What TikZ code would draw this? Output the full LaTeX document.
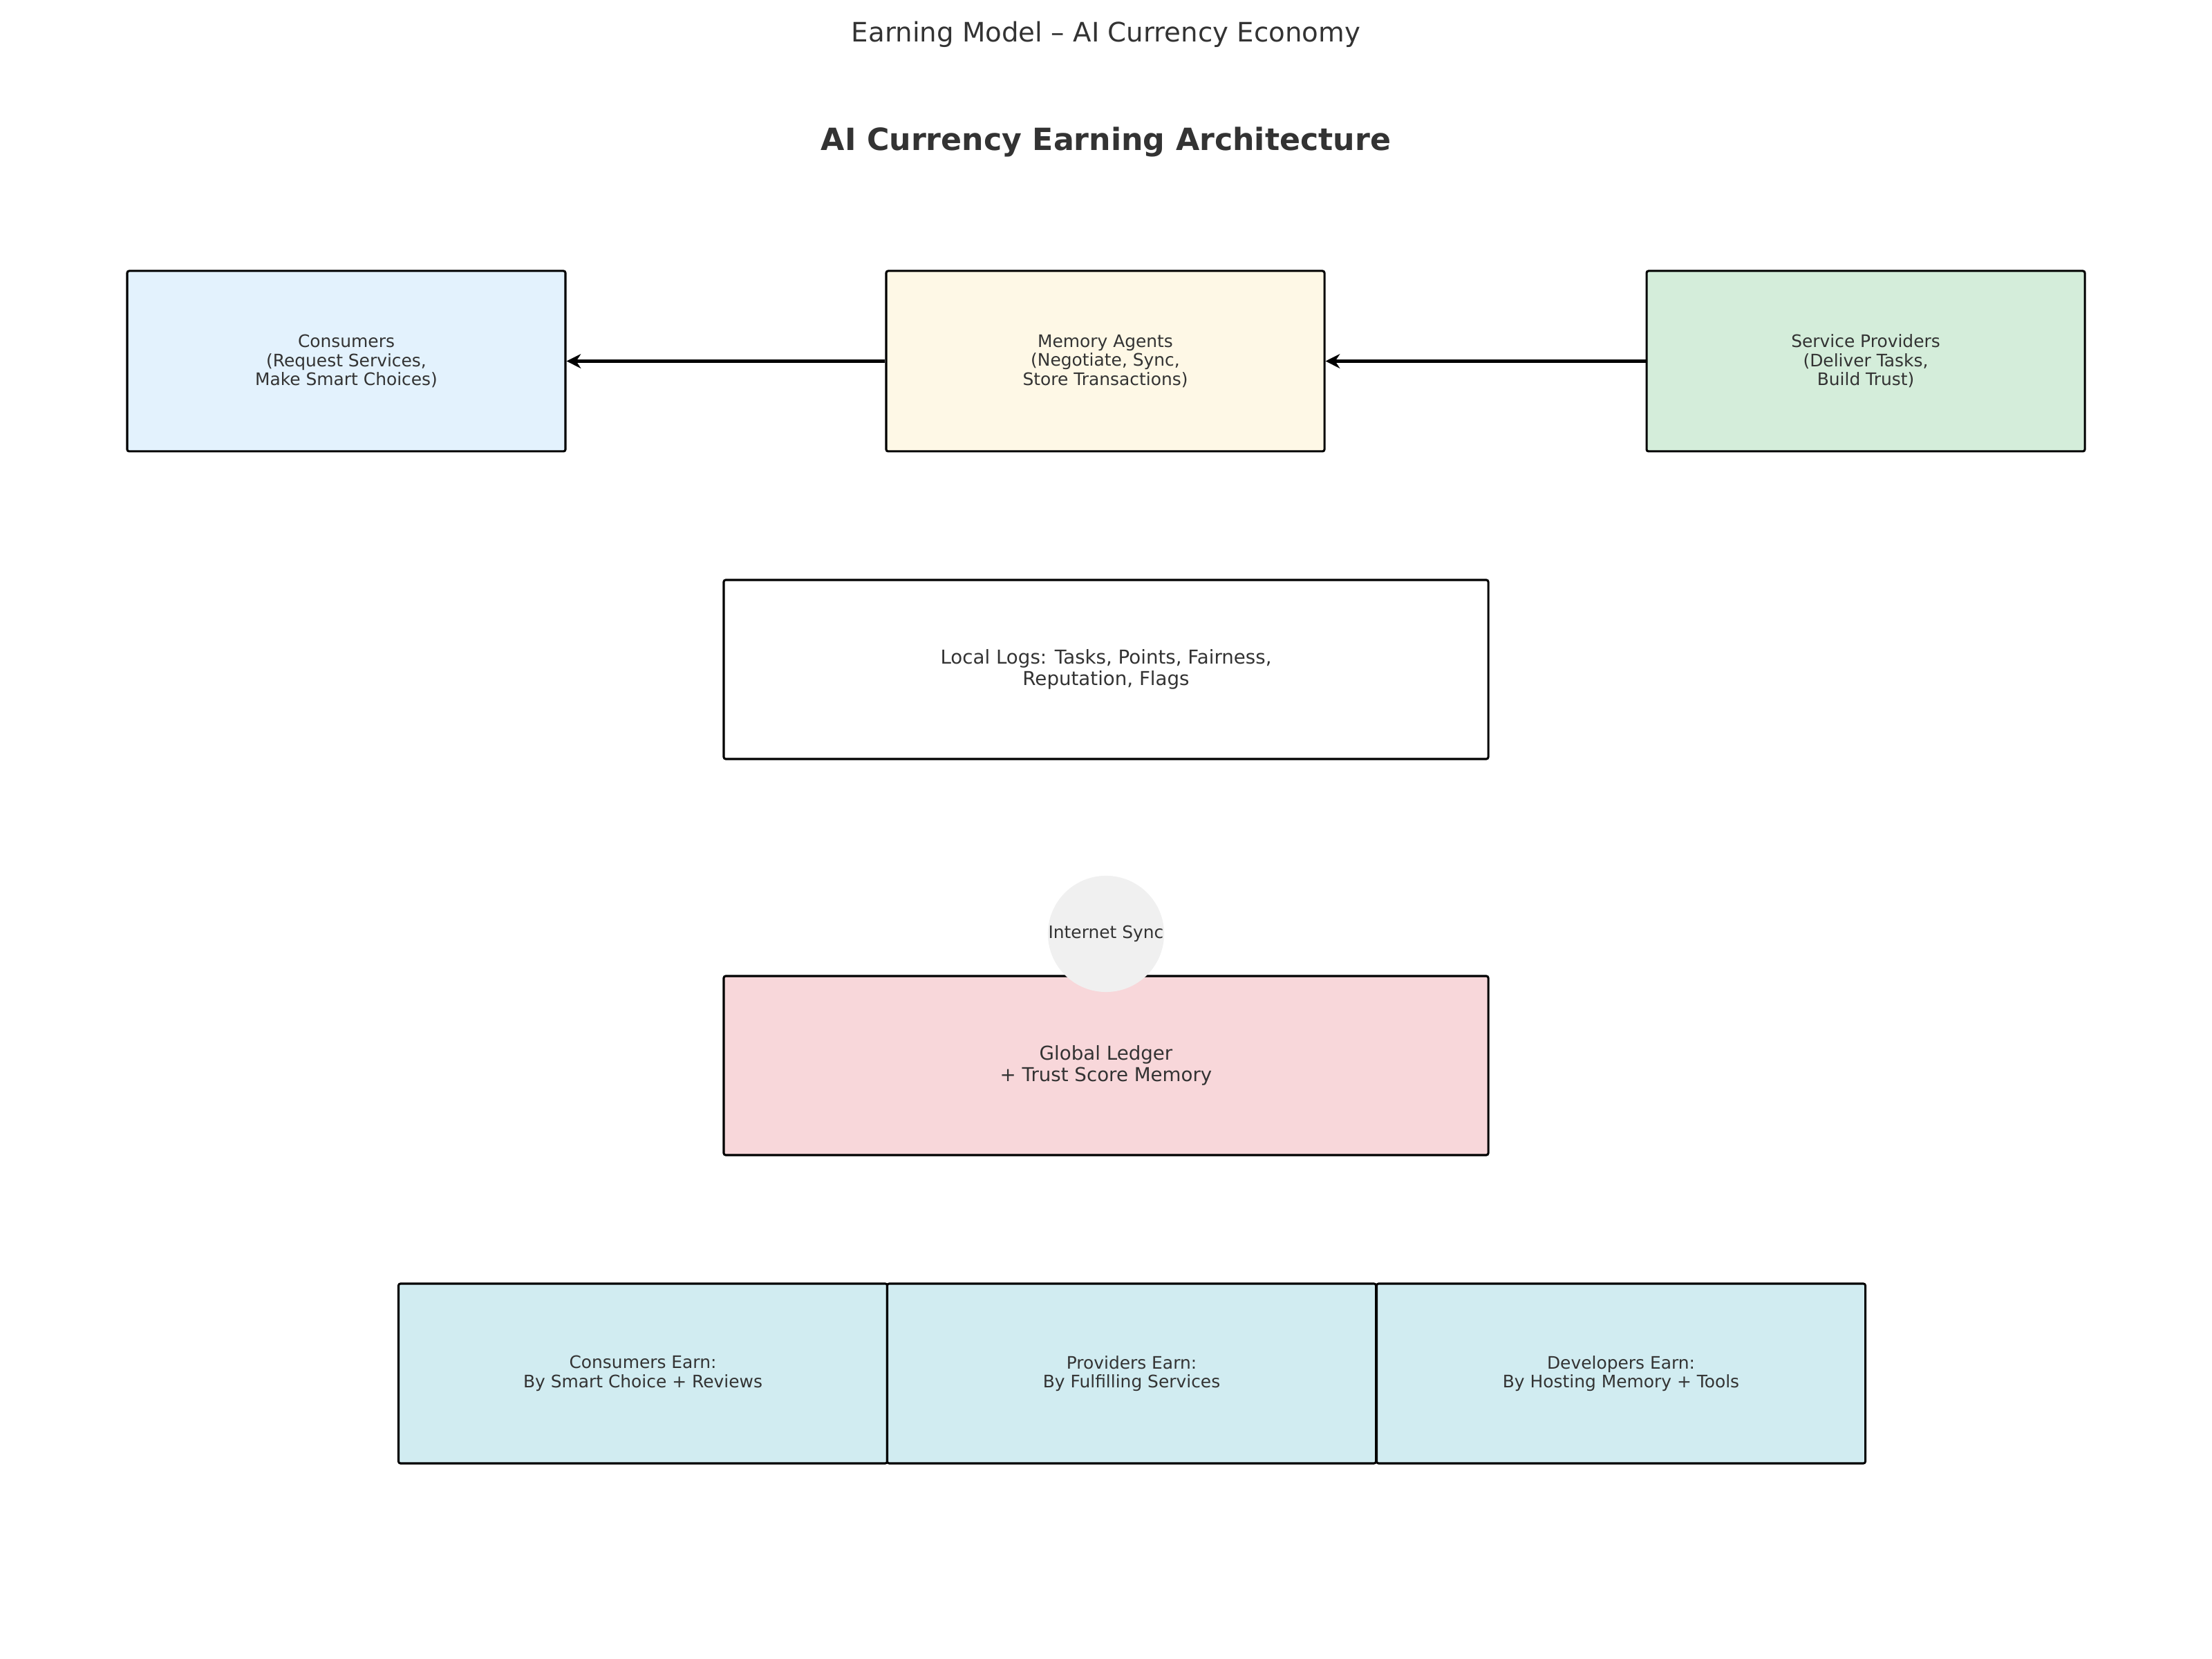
\documentclass[tikz,border=0pt]{standalone}
\usepackage{fontspec}
\setmainfont{DejaVu Sans}
\usetikzlibrary{arrows.meta}

\definecolor{txt}{HTML}{333333}
\definecolor{consfill}{HTML}{E3F2FD}
\definecolor{memfill}{HTML}{FEF8E6}
\definecolor{provfill}{HTML}{D4EDDA}
\definecolor{ledgerfill}{HTML}{F8D7DA}
\definecolor{earnfill}{HTML}{D1ECF1}
\definecolor{syncfill}{HTML}{F0F0F0}

\tikzset{
  box/.style={draw=black, line width=1.1pt, rounded corners=1pt, inner sep=0pt,
    minimum width=3.17in, minimum height=1.305in, align=center, text=txt,
    font=\fontsize{9}{10}\selectfont},
  widebox/.style={box, minimum width=5.53in, minimum height=1.295in,
    font=\fontsize{10}{11.2}\selectfont},
  earnbox/.style={box, fill=earnfill, minimum width=3.535in, minimum height=1.3in},
  flow/.style={-{Stealth[length=7.5pt,width=7.5pt]}, line width=2.1pt, black}
}

\begin{document}
\begin{tikzpicture}[x=1in, y=1in]
\useasboundingbox (0,0) rectangle (16,12);

\node[text=txt, font=\fontsize{14}{16}\selectfont] (title) at (8,11.75) {Earning Model – AI Currency Economy};
\node[text=txt, font=\fontsize{16}{18}\selectfont\bfseries] (head) at (8,10.975) {AI Currency Earning Architecture};

\node[box, fill=consfill] (cons) at (2.505,9.3875) {Consumers\\(Request Services,\\Make Smart Choices)};
\node[box, fill=memfill] (mem) at (7.995,9.3875) {Memory Agents\\(Negotiate, Sync,\\Store Transactions)};
\node[box, fill=provfill] (prov) at (13.495,9.3875) {Service Providers\\(Deliver Tasks,\\Build Trust)};

\draw [flow] (mem) -- (cons);
\draw [flow] (prov) -- (mem);

\node[widebox, fill=white] (logs) at (8,7.1575) {Local Logs: Tasks, Points, Fairness,\\Reputation, Flags};

\node[widebox, fill=ledgerfill] (ledger) at (8,4.2925) {Global Ledger\\+ Trust Score Memory};
\node[circle, fill=syncfill, minimum size=0.82in, inner sep=0pt, text=txt,
  font=\fontsize{9}{10}\selectfont] (sync) at (8,5.245) {Internet Sync};

\node[earnbox] (earnC) at (4.65,2.065) {Consumers Earn:\\By Smart Choice + Reviews};
\node[earnbox] (earnP) at (8.185,2.065) {Providers Earn:\\By Fulfilling Services};
\node[earnbox] (earnD) at (11.725,2.065) {Developers Earn:\\By Hosting Memory + Tools};

\end{tikzpicture}
\end{document}
